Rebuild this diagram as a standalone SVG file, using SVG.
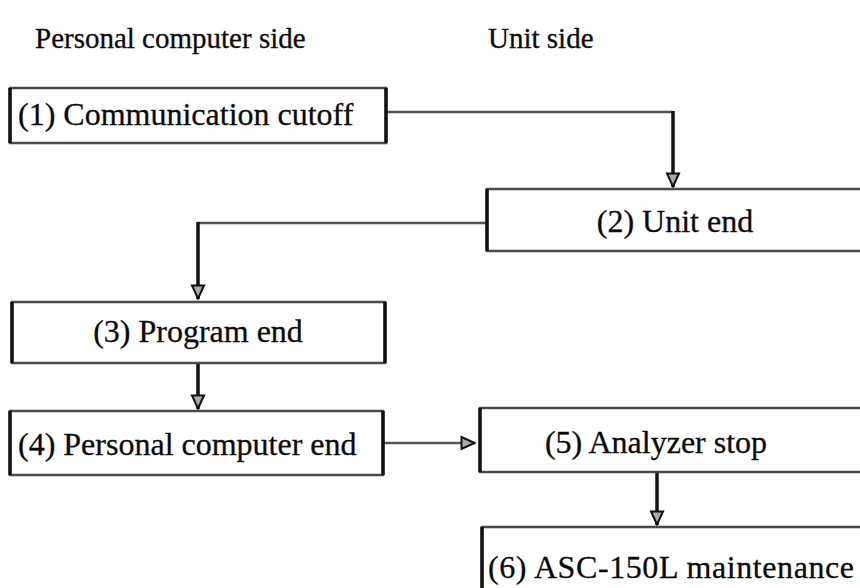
<svg xmlns="http://www.w3.org/2000/svg" width="860" height="588" viewBox="0 0 860 588">
  <style>
    .t { font-family: "Liberation Serif", "Times New Roman", serif; font-size: 32px; fill: #0a0a0a; stroke: #0a0a0a; stroke-width: 0.3; }
    .h { font-family: "Liberation Serif", "Times New Roman", serif; font-size: 29px; fill: #0a0a0a; stroke: #0a0a0a; stroke-width: 0.3; }
    .box { fill: #fff; stroke: #4a4a4a; stroke-width: 2.5; }
    .side { stroke: #111; stroke-width: 3.5; }
    .v { fill: none; stroke: #111; stroke-width: 3.5; }
    .hz { fill: none; stroke: #555; stroke-width: 2.5; }
  </style>
  <defs>
    <marker id="arr" viewBox="0 0 16 16" refX="15" refY="8" markerWidth="16" markerHeight="16" markerUnits="userSpaceOnUse" orient="auto">
      <path d="M1.5,2 L14.5,8 L1.5,14 Z" fill="#aaa" stroke="#111" stroke-width="2" stroke-linejoin="miter"/>
    </marker>
  </defs>
  <rect width="860" height="588" fill="#fff"/>
  <g id="headers">
    <text class="h" x="35" y="48">Personal computer side</text>
    <text class="h" x="488" y="48">Unit side</text>
  </g>
  <g id="connectors">
    <path class="hz" d="M386,112 H673"/>
    <path class="v" d="M673,111 V187" marker-end="url(#arr)"/>
    <path class="hz" d="M487,223 H197"/>
    <path class="v" d="M198,222 V299" marker-end="url(#arr)"/>
    <path class="v" d="M198,363 V409" marker-end="url(#arr)"/>
    <path class="hz" d="M383,443 H475" marker-end="url(#arr)"/>
    <path class="v" d="M657,472 V525" marker-end="url(#arr)"/>
  </g>
  <g id="n1">
    <rect class="box" x="10" y="88" width="376" height="55"/>
    <line class="side" x1="10" y1="88" x2="10" y2="143"/>
    <line class="side" x1="386" y1="88" x2="386" y2="143"/>
    <text class="t" x="18" y="125">(1) Communication cutoff</text>
  </g>
  <g id="n2">
    <rect class="box" x="487" y="189" width="390" height="62"/>
    <line class="side" x1="487" y1="189" x2="487" y2="251"/>
    <text class="t" x="675" y="232" text-anchor="middle">(2) Unit end</text>
  </g>
  <g id="n3">
    <rect class="box" x="12" y="302" width="373" height="61"/>
    <line class="side" x1="12" y1="302" x2="12" y2="363"/>
    <line class="side" x1="385" y1="302" x2="385" y2="363"/>
    <text class="t" x="198" y="342" text-anchor="middle">(3) Program end</text>
  </g>
  <g id="n4">
    <rect class="box" x="10" y="411" width="373" height="64"/>
    <line class="side" x1="10" y1="411" x2="10" y2="475"/>
    <line class="side" x1="383" y1="411" x2="383" y2="475"/>
    <text class="t" x="18" y="455">(4) Personal computer end</text>
  </g>
  <g id="n5">
    <rect class="box" x="480" y="408" width="397" height="64"/>
    <line class="side" x1="480" y1="408" x2="480" y2="472"/>
    <text class="t" x="656" y="453" text-anchor="middle">(5) Analyzer stop</text>
  </g>
  <g id="n6">
    <rect class="box" x="482" y="527" width="395" height="80"/>
    <line class="side" x1="482" y1="527" x2="482" y2="600"/>
    <text class="t" x="488" y="578" textLength="366">(6) ASC-150L maintenance</text>
  </g>
</svg>
